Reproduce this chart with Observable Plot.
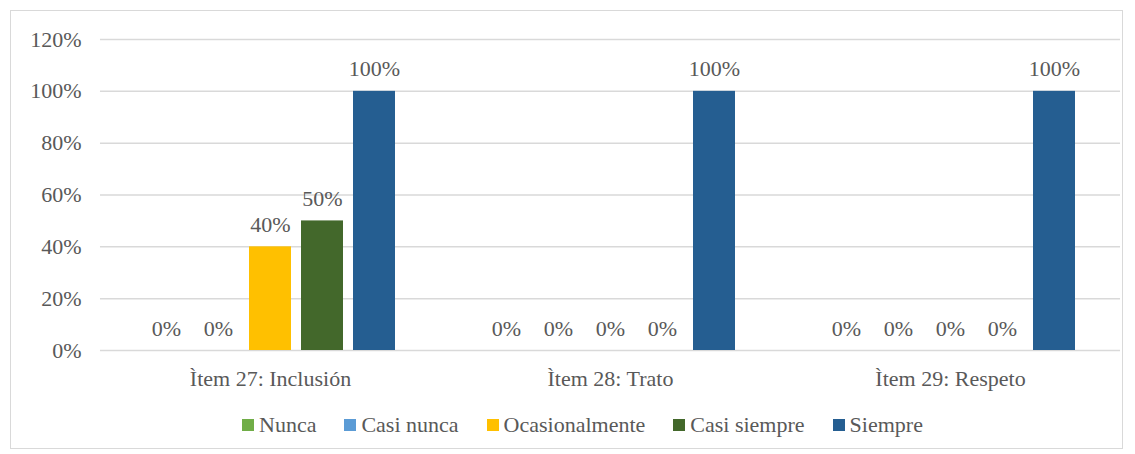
<!DOCTYPE html>
<html><head><meta charset="utf-8">
<script src="https://cdn.jsdelivr.net/npm/d3@7"></script>
<script src="https://cdn.jsdelivr.net/npm/@observablehq/plot@0.6"></script>
<style>
html,body{margin:0;padding:0;background:#fff;}
#box{position:absolute;left:10px;top:10px;width:1113px;height:439px;border:1px solid #d9d9d9;box-sizing:border-box;background:#fff;}
#legend{position:absolute;left:231px;top:397px;width:880px;}
#box svg, #box svg text, #legend, #legend * {font-family:"Liberation Serif",serif !important;}
.leg-swatches{justify-content:flex-start !important;}
.leg-swatch{margin-right:28px !important;}
.leg-swatch svg{margin-right:5px !important;}
</style>
</head><body>
<div id="box"><div id="chart"></div><div id="legend"></div></div>
<script>
const items = ["Ìtem 27: Inclusión", "Ìtem 28: Trato", "Ìtem 29: Respeto"];
const series = ["Nunca", "Casi nunca", "Ocasionalmente", "Casi siempre", "Siempre"];
const nunca = [0, 0, 0];
const casiNunca = [0, 0, 0];
const ocasionalmente = [40, 0, 0];
const casiSiempre = [50, 0, 0];
const siempre = [100, 100, 100];
const yTicks = [0, 20, 40, 60, 80, 100, 120];
const colors = ["#70AD47", "#5B9BD5", "#FFC000", "#43682B", "#255E91"];

const seriesValues = [nunca, casiNunca, ocasionalmente, casiSiempre, siempre];
const data = [];
items.forEach((it, i) => series.forEach((s, j) => data.push({item: it, serie: s, value: seriesValues[j][i]})));

const font = "Liberation Serif, serif";
const txt = "#595959";

const W = 1111, ML = 88, MR = 2;
const halfGap = ((W - ML - MR) / items.length) * 0.1;

const chart = Plot.plot({
  width: W,
  height: 392,
  marginLeft: ML,
  marginRight: MR,
  marginTop: 28,
  marginBottom: 53,
  style: {fontFamily: font, fontSize: "22px", color: txt, background: "transparent"},
  fx: {domain: items, paddingInner: 0.2, paddingOuter: 0.1, label: null, tickSize: 0, tickPadding: 20},
  x: {domain: series, padding: 0.2, axis: null},
  y: {domain: [0, 120], ticks: yTicks, tickFormat: d => d + "%", label: null, tickSize: 0, tickPadding: 19 + halfGap},
  color: {domain: series, range: colors},
  marks: [
    Plot.ruleY(yTicks, {stroke: "#d9d9d9", strokeWidth: 1.5, insetLeft: -halfGap, insetRight: -halfGap}),
    Plot.barY(data, {fx: "item", x: "serie", y: "value", fill: "serie"}),
    Plot.text(data, {fx: "item", x: "serie", y: "value", text: d => d.value + "%", dy: -22, fill: txt, fontSize: 22})
  ]
});
document.getElementById("chart").appendChild(chart);

const leg = Plot.legend({
  color: {domain: series, range: colors},
  legend: "swatches",
  swatchSize: 12,
  className: "leg",
  style: {fontFamily: font, fontSize: "22px", color: txt}
});
document.getElementById("legend").appendChild(leg);
</script>
</body></html>
